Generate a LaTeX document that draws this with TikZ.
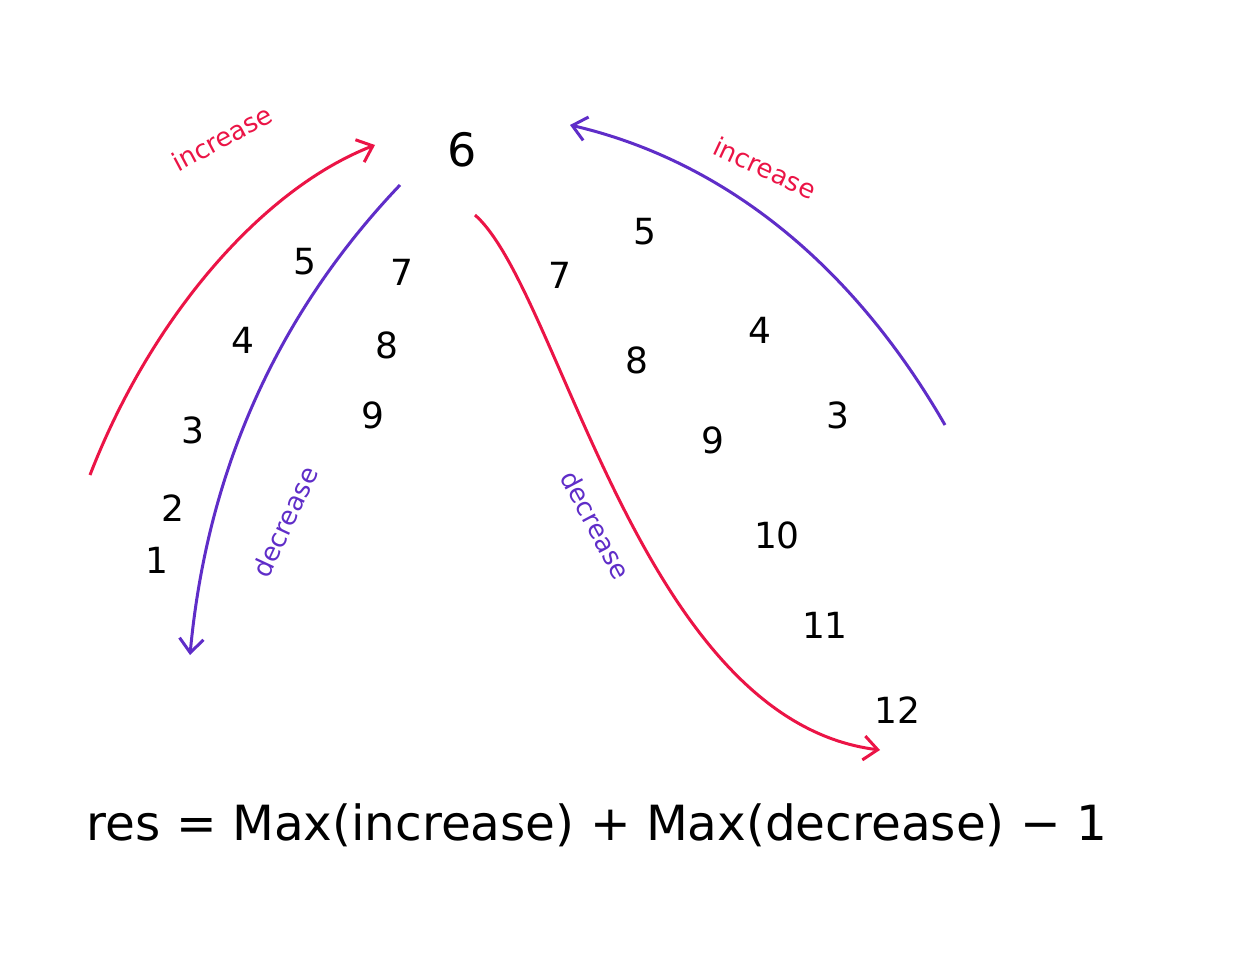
\documentclass[tikz,border=0pt]{standalone}
\usepackage{fontspec}
\setmainfont{DejaVu Sans}
\usetikzlibrary{arrows.meta}
\definecolor{hred}{RGB}{235,20,70}
\definecolor{hpur}{RGB}{95,45,200}
\begin{document}
\begin{tikzpicture}[x=1pt,y=-1pt,
  num/.style={font=\fontsize{36}{36}\selectfont,text=black},
  lab/.style={font=\fontsize{26}{26}\selectfont},
  arr/.style={line width=3pt,-{Straight Barb[length=14pt,width=24pt]}}]
\useasboundingbox (0,0) rectangle (1248,960);
\node[num,font=\fontsize{46}{46}\selectfont] (six) at (462,150) {6};
\coordinate (a1) at (90,475); \coordinate (a2) at (375,145);
\coordinate (b1) at (400,185); \coordinate (b2) at (190,655);
\coordinate (c1) at (475,215); \coordinate (c2) at (880,750);
\coordinate (d1) at (945,425); \coordinate (d2) at (570,125);
\draw[arr,hred] (a1) .. controls (150,320) and (260,190) .. (a2);
\draw[arr,hpur] (b1) .. controls (300,290) and (210,440) .. (b2);
\draw[arr,hred] (c1) .. controls (560,290) and (640,720) .. (c2);
\draw[arr,hpur] (d1) .. controls (850,260) and (720,160) .. (d2);
\node[lab,hred,rotate=28] (l1) at (222,138) {increase};
\node[lab,hred,rotate=-25] (l2) at (765,168) {increase};
\node[lab,hpur,rotate=65] (l3) at (285,522) {decrease};
\node[lab,hpur,rotate=-62] (l4) at (596,525) {decrease};
\node[num] (n5) at (305,262) {5};
\node[num] (n4) at (243,340) {4};
\node[num] (n3) at (193,430) {3};
\node[num] (n2) at (173,508) {2};
\node[num] (n1) at (157,560) {1};
\node[num] (m7) at (402,272) {7};
\node[num] (m8) at (387,345) {8};
\node[num] (m9) at (373,415) {9};
\node[num] (r7) at (560,275) {7};
\node[num] (r5) at (645,232) {5};
\node[num] (r8) at (637,360) {8};
\node[num] (r4) at (760,330) {4};
\node[num] (r9) at (713,440) {9};
\node[num] (r3) at (838,415) {3};
\node[num] (r10) at (777,535) {10};
\node[num] (r11) at (825,625) {11};
\node[num] (r12) at (897,710) {12};
\node (f) at (597,825) {\resizebox{1020pt}{!}{\fontsize{50}{50}\selectfont res = Max(increase) + Max(decrease) − 1}};
\end{tikzpicture}
\end{document}
